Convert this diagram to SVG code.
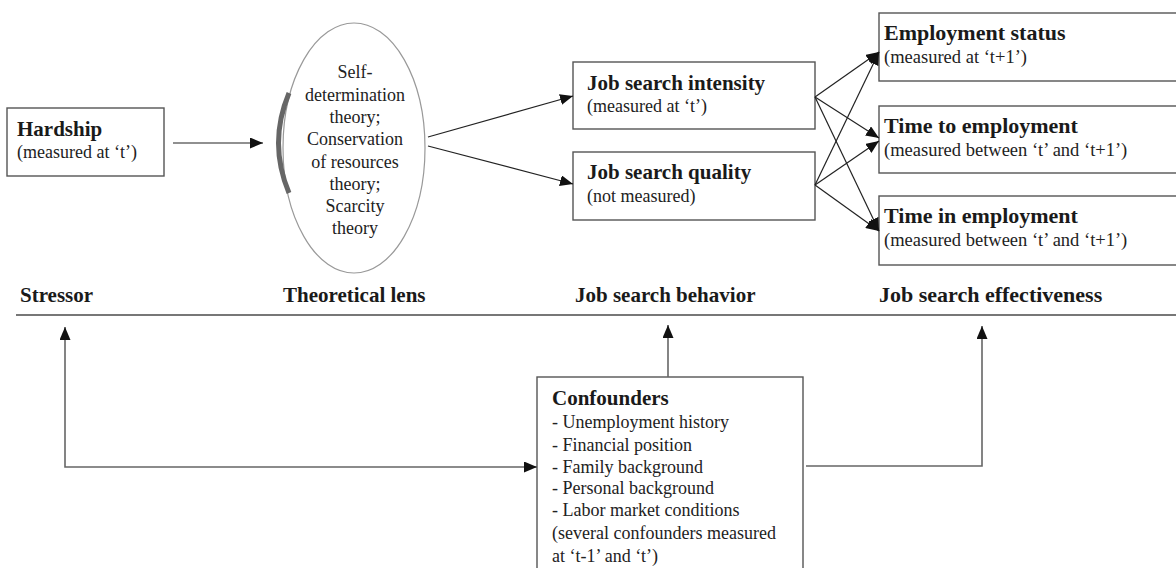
<svg xmlns="http://www.w3.org/2000/svg" width="1176" height="568" viewBox="0 0 1176 568">
<style>
.box{fill:#fff;stroke:#555;stroke-width:1.4}
.b{font-family:"Liberation Serif","Times New Roman",serif;font-weight:bold;font-size:21px;fill:#1a1a1a}
.r{font-family:"Liberation Serif","Times New Roman",serif;font-size:18px;fill:#222}
.b2{font-family:"Liberation Serif","Times New Roman",serif;font-weight:bold;font-size:22px;fill:#1a1a1a}
.r2{font-family:"Liberation Serif","Times New Roman",serif;font-size:18.5px;fill:#222}
.ln{fill:none;stroke:#222;stroke-width:1.2}
.cn{fill:none;stroke:#666;stroke-width:1.6}
</style>
<defs>
<marker id="ah" markerUnits="userSpaceOnUse" markerWidth="13" markerHeight="11" viewBox="0 0 13 11" refX="13" refY="5.5" orient="auto-start-reverse">
<path d="M0,0 L13,5.5 L0,11 z" fill="#111"/>
</marker>
</defs>
<rect width="1176" height="568" fill="#fff"/>

<g id="hardship">
<rect class="box" x="7" y="108" width="157" height="68"/>
<text class="b" x="17" y="136">Hardship</text>
<text class="r" x="17" y="158">(measured at ‘t’)</text>
</g>

<g id="lens">
<ellipse cx="354" cy="148" rx="71" ry="125" fill="#fff" stroke="#999" stroke-width="1.2"/>
<path d="M289,93 Q268,143 289,193" fill="none" stroke="#666" stroke-width="5"/>
<g class="r" text-anchor="middle">
<text x="355" y="78">Self-</text>
<text x="355" y="101">determination</text>
<text x="355" y="123">theory;</text>
<text x="355" y="145">Conservation</text>
<text x="355" y="168">of resources</text>
<text x="355" y="190">theory;</text>
<text x="355" y="212">Scarcity</text>
<text x="355" y="234">theory</text>
</g>
</g>

<g id="intensity">
<rect class="box" x="573" y="62" width="242" height="67"/>
<text class="b" x="587" y="90">Job search intensity</text>
<text class="r" x="587" y="112">(measured at ‘t’)</text>
</g>

<g id="quality">
<rect class="box" x="573" y="152" width="242" height="68"/>
<text class="b" x="587" y="179">Job search quality</text>
<text class="r" x="587" y="202">(not measured)</text>
</g>

<g id="status">
<rect class="box" x="879" y="13" width="310" height="68"/>
<text class="b2" x="884" y="40">Employment status</text>
<text class="r2" x="884" y="63">(measured at ‘t+1’)</text>
</g>

<g id="timeto">
<rect class="box" x="879" y="106" width="310" height="67"/>
<text class="b2" x="884" y="133">Time to employment</text>
<text class="r2" x="884" y="156">(measured between ‘t’ and ‘t+1’)</text>
</g>

<g id="timein">
<rect class="box" x="879" y="196" width="310" height="69"/>
<text class="b2" x="884" y="223">Time in employment</text>
<text class="r2" x="884" y="246">(measured between ‘t’ and ‘t+1’)</text>
</g>

<g id="confounders">
<rect class="box" x="537" y="377" width="266" height="200"/>
<text class="b" x="552" y="405">Confounders</text>
<text class="r" x="552" y="428">- Unemployment history</text>
<text class="r" x="552" y="451">- Financial position</text>
<text class="r" x="552" y="473">- Family background</text>
<text class="r" x="552" y="494">- Personal background</text>
<text class="r" x="552" y="516">- Labor market conditions</text>
<text class="r" x="552" y="539">(several confounders measured</text>
<text class="r" x="552" y="562">at ‘t-1’ and ‘t’)</text>
</g>

<g id="labels">
<text class="b" x="20" y="302">Stressor</text>
<text class="b" x="283" y="302">Theoretical lens</text>
<text class="b" x="575" y="302">Job search behavior</text>
<text class="b2" x="879" y="302">Job search effectiveness</text>
<line x1="16" y1="315" x2="1176" y2="315" stroke="#777" stroke-width="1.8"/>
</g>

<g id="connectors">
<line class="ln" x1="173" y1="143" x2="263" y2="143" marker-end="url(#ah)"/>
<line class="ln" x1="428" y1="137" x2="573" y2="96" marker-end="url(#ah)"/>
<line class="ln" x1="428" y1="146" x2="573" y2="184" marker-end="url(#ah)"/>
<line class="ln" x1="815" y1="97" x2="879" y2="52" marker-end="url(#ah)"/>
<line class="ln" x1="815" y1="97" x2="879" y2="138" marker-end="url(#ah)"/>
<line class="ln" x1="815" y1="97" x2="879" y2="231" marker-end="url(#ah)"/>
<line class="ln" x1="815" y1="185" x2="879" y2="52" marker-end="url(#ah)"/>
<line class="ln" x1="815" y1="185" x2="879" y2="141" marker-end="url(#ah)"/>
<line class="ln" x1="815" y1="185" x2="879" y2="231" marker-end="url(#ah)"/>
<path class="cn" d="M537,467 H65 V327" marker-start="url(#ah)" marker-end="url(#ah)"/>
<line class="cn" x1="668" y1="377" x2="668" y2="325" marker-end="url(#ah)"/>
<path class="cn" d="M806,466 H982 V326" marker-end="url(#ah)"/>
</g>
</svg>
